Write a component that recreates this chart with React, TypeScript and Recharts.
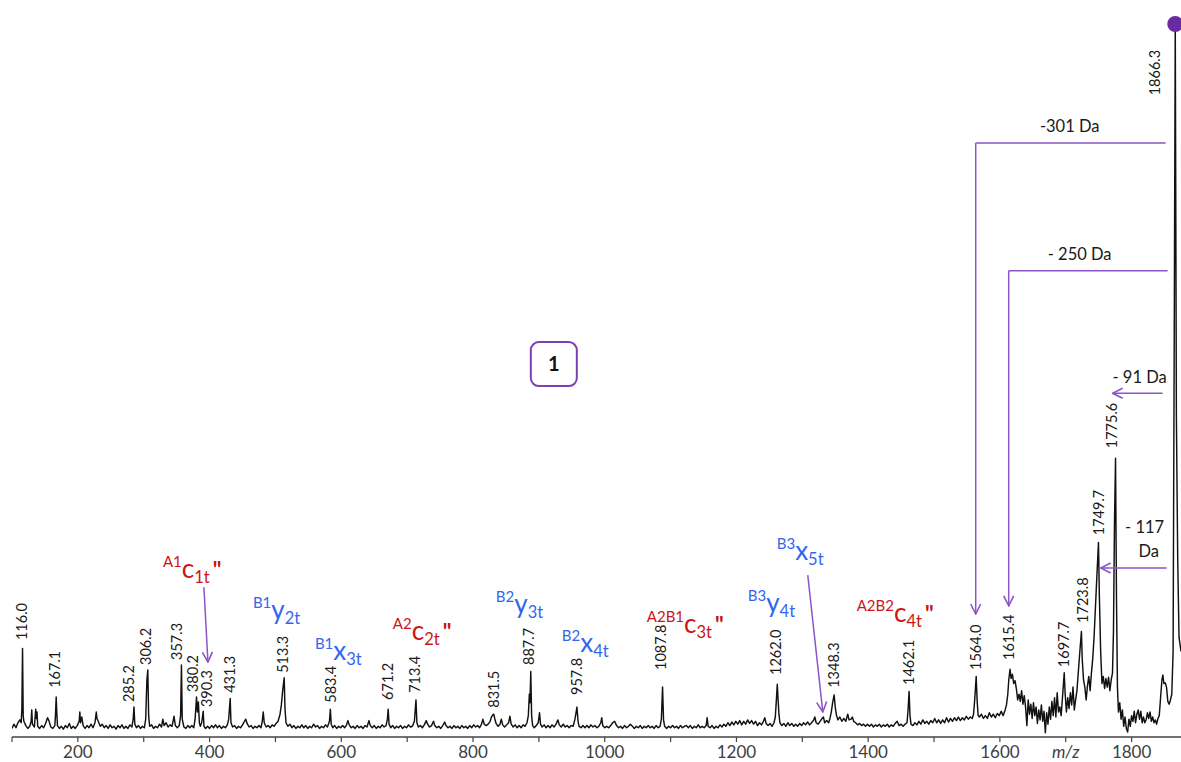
import React from 'react';
import {
  ComposedChart,
  Line,
  Scatter,
  XAxis,
  YAxis,
  ReferenceLine,
  ReferenceDot,
} from 'recharts';

const FONT = 'Lato, "Open Sans", sans-serif';
const RED = '#cc1515';
const BLUE = '#3366f0';
const PURPLE = '#8c55c8';
const BOX_PURPLE = '#7b40b4';
const DOT_PURPLE = '#6a2aa3';

// m/z axis ticks (every 100, labelled every 200; 1700 carries the "m/z" label)
const xTicks = [100, 200, 300, 400, 500, 600, 700, 800, 900, 1000, 1100, 1200, 1300, 1400, 1500, 1600, 1700, 1800];

// spectrum: [m/z, relative intensity %]
const spectrum100to310: [number, number][] = [
  [100, 1.2], [103, 1.8], [106, 1.3], [109, 2.0], [112, 2.4], [114, 2.0], [115, 4], [116, 12.4], [117, 3], [118, 2.2],
  [121, 1.6], [124, 1.2], [127, 1.5], [129, 2.2], [130, 3.8], [131, 1.8], [134, 1.4], [136, 3.9], [137, 2.6], [138, 3.5],
  [139, 1.5], [142, 1.2], [145, 1.6], [148, 1.3], [151, 1.9], [154, 2.7], [156, 2.3], [159, 1.4], [162, 1.2], [165, 1.6],
  [166, 3], [167.1, 5.6], [168, 3.5], [169, 1.6], [172, 1.2], [175, 1.5], [178, 1.1], [181, 1.6], [184, 1.3], [187, 1.9],
  [190, 1.2], [193, 1.5], [196, 1.2], [199, 1.6], [202, 2.2], [203, 3.5], [204, 2.0], [206, 2.8], [208, 1.6], [211, 1.2],
  [214, 1.6], [217, 1.3], [220, 1.8], [223, 1.3], [226, 2.0], [228, 3.5], [229, 2.6], [231, 2.2], [234, 1.5], [237, 1.8],
  [240, 1.3], [243, 1.6], [246, 1.2], [249, 1.7], [252, 1.3], [255, 1.5], [258, 1.1], [261, 1.6], [264, 1.3], [267, 1.7],
  [270, 1.2], [273, 1.5], [276, 1.2], [279, 1.7], [282, 1.4], [284, 2.5], [285.2, 4.2], [286.5, 1.8], [289, 1.3], [292, 1.6],
  [295, 1.2], [298, 1.5], [301, 1.3], [303, 2.5], [304.8, 8], [306.2, 9.4], [307.5, 3], [309, 1.5],
];

const spectrum310to525: [number, number][] = [
  [312, 1.7], [315, 1.2], [318, 1.5], [321, 1.3], [324, 1.8], [327, 1.4], [329, 2.5], [331, 1.6], [334, 2.0], [337, 1.4],
  [340, 1.7], [343, 1.5], [346, 2.9], [348, 1.6], [351, 1.3], [354, 1.6], [356, 3], [357.3, 10.1], [358.5, 2.5], [361, 1.4],
  [364, 1.2], [367, 1.6], [370, 1.3], [373, 1.6], [376, 1.3], [378, 2.5], [380.2, 5.6], [381.5, 3.5], [383, 4.9], [384.5, 2.0],
  [386, 1.5], [388, 2.0], [390.3, 3.6], [391.5, 1.5], [394, 1.2], [397, 1.5], [400, 1.2], [403, 1.6], [406, 1.3], [409, 1.7],
  [412, 1.3], [415, 1.6], [418, 1.2], [421, 1.5], [424, 1.3], [427, 1.7], [429, 2.5], [431.3, 5.4], [432.5, 2.0], [435, 1.4],
  [438, 1.6], [441, 1.2], [444, 1.5], [447, 1.3], [450, 1.7], [453, 2.2], [455, 2.5], [457, 1.9], [460, 1.4], [463, 1.6],
  [466, 1.2], [469, 1.5], [472, 1.3], [475, 1.6], [478, 1.3], [480, 2.2], [481.5, 3.5], [483, 2.0], [486, 1.4], [489, 1.6],
  [492, 1.3], [495, 1.7], [498, 1.5], [501, 1.9], [504, 2.2], [507, 3.2], [509, 4.5], [511, 6.5], [513.3, 8.3], [514.5, 4],
  [516, 2.0], [519, 1.5], [522, 1.8], [525, 1.3],
];

const spectrum525to735: [number, number][] = [
  [528, 1.6], [531, 1.2], [534, 1.5], [537, 1.3], [540, 1.7], [543, 1.3], [546, 1.6], [549, 1.2], [552, 1.5], [555, 1.3],
  [558, 1.8], [561, 1.4], [564, 1.6], [567, 1.2], [570, 1.5], [573, 1.3], [576, 1.7], [579, 1.4], [582, 2.2], [583.4, 3.9],
  [584.7, 1.8], [587, 1.3], [590, 1.6], [593, 1.2], [596, 1.5], [599, 1.3], [602, 1.6], [605, 1.3], [608, 1.7], [610, 2.3],
  [612, 1.7], [615, 1.3], [618, 1.5], [621, 1.2], [624, 1.6], [627, 1.3], [630, 1.5], [633, 1.2], [636, 1.6], [639, 1.4],
  [642, 2.3], [644, 1.6], [647, 1.3], [650, 1.6], [653, 1.2], [656, 1.5], [659, 1.3], [662, 1.7], [665, 1.4], [668, 1.6],
  [670, 2.5], [671.2, 3.9], [672.5, 1.8], [675, 1.3], [678, 1.6], [681, 1.2], [684, 1.5], [687, 1.3], [690, 1.6], [693, 1.2],
  [696, 1.5], [699, 1.3], [702, 1.7], [705, 1.4], [708, 1.5], [711, 2.2], [713.4, 5.2], [714.8, 2.0], [717, 1.4], [720, 1.6],
  [723, 1.3], [726, 1.7], [729, 2.3], [731, 1.8], [734, 1.4],
];

const spectrum735to962: [number, number][] = [
  [737, 1.6], [740, 2.2], [742, 1.6], [745, 1.3], [748, 1.5], [751, 1.2], [754, 1.6], [757, 2.1], [759, 1.6], [762, 1.3],
  [765, 1.5], [768, 1.2], [771, 1.6], [774, 1.3], [777, 1.5], [780, 1.2], [783, 1.6], [786, 1.3], [789, 1.5], [792, 1.2],
  [795, 1.6], [798, 1.3], [801, 1.7], [804, 1.4], [807, 1.6], [810, 1.3], [813, 1.8], [815, 2.5], [817, 1.8], [820, 1.6],
  [823, 1.8], [826, 2.2], [828, 2.8], [830, 3.1], [831.5, 3.2], [833, 2.6], [835, 1.9], [838, 1.5], [841, 1.8], [843, 2.5],
  [845, 1.7], [848, 1.4], [851, 1.7], [854, 2.0], [856, 2.9], [858, 1.8], [861, 1.4], [864, 1.7], [867, 1.3], [870, 1.6],
  [873, 1.3], [876, 1.7], [879, 1.5], [882, 2.0], [884, 3], [885.5, 6], [886.5, 4.8], [887.7, 9.2], [889, 3], [890.5, 1.6],
  [893, 1.3], [896, 1.6], [899, 2.0], [901, 3.4], [902.5, 1.8], [905, 1.4], [908, 1.7], [911, 1.3], [914, 1.6], [917, 1.3],
  [920, 1.7], [923, 1.4], [926, 1.8], [929, 2.4], [931, 1.7], [934, 1.4], [937, 1.8], [940, 1.4], [943, 1.6], [946, 1.3],
  [949, 1.6], [952, 1.5], [955, 2.6], [957.8, 4.2], [959.5, 2.2], [961, 1.5],
];

const spectrum962to1200: [number, number][] = [
  [964, 1.3], [967, 1.6], [970, 1.3], [973, 1.6], [976, 1.3], [979, 1.7], [982, 1.4], [985, 1.6], [988, 1.3], [991, 1.5],
  [994, 2.0], [995.5, 2.7], [997, 1.6], [1000, 1.3], [1003, 1.5], [1006, 1.3], [1009, 1.6], [1012, 2.0], [1015, 2.2], [1018, 1.6],
  [1021, 1.3], [1024, 1.5], [1027, 1.2], [1030, 1.6], [1033, 1.3], [1036, 1.5], [1039, 1.8], [1042, 1.5], [1045, 1.2], [1048, 1.5],
  [1051, 1.3], [1054, 1.6], [1057, 1.2], [1060, 1.5], [1063, 1.3], [1066, 1.6], [1069, 1.3], [1072, 1.5], [1075, 1.2], [1078, 1.6],
  [1081, 1.3], [1084, 1.5], [1086, 2.5], [1087.8, 7.0], [1089.3, 2.4], [1091, 1.5], [1094, 1.2], [1097, 1.5], [1100, 1.3], [1103, 1.6],
  [1106, 1.3], [1109, 1.5], [1112, 1.2], [1115, 1.6], [1118, 1.3], [1121, 1.5], [1124, 1.6], [1127, 1.3], [1130, 1.6], [1133, 1.2],
  [1136, 1.5], [1139, 1.3], [1142, 1.7], [1145, 1.3], [1148, 1.5], [1151, 1.3], [1154, 1.6], [1155.5, 2.7], [1157, 1.5], [1160, 1.3],
  [1163, 1.6], [1166, 1.2], [1169, 1.5], [1172, 1.3], [1175, 1.7], [1178, 1.4], [1181, 1.8], [1184, 1.5], [1187, 2.0], [1190, 1.6],
  [1193, 2.1], [1196, 1.7], [1199, 2.2],
];

const spectrum1200to1400: [number, number][] = [
  [1202, 1.8], [1205, 2.3], [1208, 1.7], [1211, 2.2], [1214, 1.8], [1217, 2.4], [1220, 1.9], [1223, 2.3], [1226, 1.8], [1229, 2.2],
  [1232, 1.6], [1235, 2.0], [1238, 1.7], [1241, 2.2], [1243, 2.7], [1245, 1.9], [1248, 1.6], [1251, 1.9], [1254, 1.5], [1257, 2.0],
  [1259, 2.8], [1260.5, 5], [1262, 7.4], [1263, 5.6], [1264.5, 3.2], [1266, 2.0], [1269, 1.6], [1272, 1.9], [1275, 1.5], [1278, 2.0],
  [1281, 1.6], [1284, 1.9], [1287, 1.5], [1290, 1.8], [1293, 1.5], [1296, 1.9], [1299, 1.6], [1302, 2.0], [1305, 1.7], [1308, 2.1],
  [1311, 1.7], [1314, 2.0], [1317, 2.3], [1319, 2.8], [1321, 2.0], [1324, 1.8], [1327, 2.2], [1330, 2.6], [1332, 2.8], [1334, 2.0],
  [1337, 2.3], [1340, 2.0], [1342, 2.6], [1344, 3.5], [1346, 4.8], [1348.3, 5.9], [1350, 4.2], [1352, 3.0], [1354, 2.4], [1357, 2.8],
  [1360, 2.2], [1363, 2.6], [1366, 2.2], [1369, 3.2], [1371, 2.4], [1374, 2.5], [1376, 2.8], [1378, 2.2], [1381, 2.0], [1384, 1.7],
  [1387, 1.9], [1390, 1.6], [1393, 1.8], [1396, 1.5], [1399, 1.8],
];

const spectrum1400to1567: [number, number][] = [
  [1402, 1.5], [1405, 1.8], [1408, 1.4], [1411, 1.7], [1414, 1.5], [1417, 1.8], [1420, 1.4], [1423, 1.7], [1426, 1.5], [1429, 1.8],
  [1432, 1.4], [1435, 1.7], [1438, 1.5], [1441, 1.9], [1444, 2.2], [1447, 1.6], [1450, 1.8], [1453, 1.5], [1456, 1.8], [1459, 2.0],
  [1460.7, 4], [1462.1, 6.4], [1463.5, 3], [1465, 1.8], [1468, 1.6], [1471, 2.0], [1474, 1.7], [1477, 2.2], [1480, 1.8], [1483, 2.4],
  [1486, 1.9], [1489, 2.2], [1492, 1.8], [1495, 2.3], [1498, 2.0], [1501, 2.6], [1504, 2.0], [1507, 2.4], [1510, 1.9], [1513, 2.4],
  [1516, 2.0], [1519, 2.7], [1522, 2.1], [1525, 2.6], [1528, 2.2], [1531, 2.7], [1534, 2.3], [1537, 2.8], [1540, 2.3], [1543, 2.7],
  [1546, 2.4], [1549, 2.9], [1552, 2.5], [1555, 2.8], [1558, 2.6], [1560, 3.2], [1562, 5.5], [1564, 8.5], [1565.5, 5], [1567, 3.0],
];

const spectrum1567to1701: [number, number][] = [
  [1569, 2.8], [1572, 3.2], [1575, 2.6], [1578, 3.0], [1581, 2.6], [1584, 3.4], [1587, 2.8], [1590, 3.2], [1593, 2.7], [1596, 3.3],
  [1599, 3.0], [1602, 3.6], [1605, 3.0], [1608, 3.8], [1610, 4.5], [1612, 6], [1613.5, 8.0], [1615.4, 9.5], [1617, 8.2], [1619, 8.8],
  [1621, 7.5], [1623, 7.9], [1625, 6.8], [1627, 5.2], [1629, 6.0], [1631, 5.0], [1633, 6.5], [1635, 4.6], [1637, 5.8], [1639, 4.2],
  [1641, 1.6], [1643, 5.2], [1645, 3.2], [1647, 4.6], [1649, 2.6], [1651, 4.8], [1653, 3.0], [1655, 4.2], [1657, 1.9], [1659, 3.8],
  [1661, 2.4], [1663, 4.5], [1665, 2.2], [1667, 3.6], [1669, 0.6], [1671, 3.4], [1673, 1.8], [1675, 4.2], [1677, 2.5], [1679, 5.0],
  [1681, 3.0], [1683, 5.5], [1685, 2.8], [1687, 6.2], [1689, 3.5], [1691, 4.2], [1693, 3.0], [1695, 5.5], [1697.7, 9.0], [1699, 6.2],
  [1701, 3.5],
];

const spectrum1701to1875: [number, number][] = [
  [1703, 5.5], [1705, 4.0], [1707, 6.2], [1709, 4.5], [1711, 7.0], [1713, 3.8], [1715, 5.2], [1717, 6.5], [1719, 9.0], [1721, 11.5],
  [1723.8, 14.8], [1725, 11.0], [1727, 8.0], [1729, 7.0], [1731, 5.2], [1733, 7.2], [1735, 8.5], [1737, 6.5], [1739, 9.0], [1741, 11],
  [1743, 14], [1745, 18], [1747, 22], [1749.7, 27.3], [1751, 20], [1753, 12], [1755, 7.5], [1757, 8.5], [1759, 6.8], [1761, 8.2],
  [1763, 7.0], [1765, 8.4], [1767, 6.5], [1769, 8.0], [1771, 9], [1772.5, 15], [1774, 30], [1775.6, 39.1], [1777, 20], [1778.5, 7],
  [1780, 3.5], [1782, 4.8], [1784, 2.5], [1786, 3.8], [1788, 1.5], [1790, 2.8], [1792, 1.2], [1794, 0.7], [1796, 2.5], [1798, 1.5],
  [1800, 3.0], [1802, 2.2], [1804, 3.6], [1806, 2.0], [1808, 3.2], [1810, 3.8], [1812, 2.5], [1814, 3.6], [1816, 2.0], [1818, 2.8],
  [1820, 2.0], [1822, 2.4], [1824, 3.4], [1826, 2.6], [1828, 3.5], [1830, 2.2], [1832, 2.8], [1834, 2.0], [1836, 2.4], [1838, 1.8],
  [1840, 2.6], [1842, 3.0], [1844, 5.5], [1846, 8.0], [1847.5, 8.7], [1849, 7.5], [1851, 7.6], [1853, 7.0], [1855, 5.0], [1857, 4.6],
  [1859, 5.2], [1861, 6.0], [1863, 12], [1864.5, 50], [1866.3, 100], [1868, 45], [1870, 25], [1872, 14], [1875, 12],
];

// peak labels: [label anchor m/z, label anchor intensity, text]
const peakLabels: [number, number, string][] = [
  [115.2, 13.6, '116.0'], [165.3, 6.9, '167.1'], [278, 4.9, '285.2'], [303, 10.1, '306.2'], [350, 10.8, '357.3'],
  [374.3, 6.3, '380.2'], [396.5, 4.2, '390.3'], [431, 6.2, '431.3'], [511.8, 9.0, '513.3'], [584, 4.8, '583.4'],
  [670.3, 5.2, '671.2'], [711.7, 6.2, '713.4'], [831.6, 4.1, '831.5'], [885.2, 10.1, '887.7'], [957.2, 5.9, '957.8'],
  [1085.1, 9.4, '1087.8'], [1259.7, 8.7, '1262.0'], [1347.7, 6.9, '1348.3'], [1462, 7.3, '1462.1'], [1563.3, 9.4, '1564.0'],
  [1613.8, 10.8, '1615.4'], [1697.3, 9.8, '1697.7'], [1725.2, 16.0, '1723.8'], [1750.4, 28.3, '1749.7'], [1769.3, 40.5, '1775.6'],
  [1835, 90.0, '1866.3'],
];

// fragment ion annotations: [m/z, intensity, superscript, ion, subscript, double prime]
const fragments: [number, number, string, string, string, boolean][] = [
  [329.2, 22.3, 'A1', 'c', '1t', true],
  [465.8, 16.55, 'B1', 'y', '2t', false],
  [559.9, 10.8, 'B1', 'x', '3t', false],
  [678.3, 13.6, 'A2', 'c', '2t', true],
  [834.7, 17.4, 'B2', 'y', '3t', false],
  [934.9, 11.9, 'B2', 'x', '4t', false],
  [1063.9, 14.6, 'A2B1', 'c', '3t', true],
  [1217.2, 17.5, 'B3', 'y', '4t', false],
  [1261.2, 24.8, 'B3', 'x', '5t', false],
  [1382.6, 16.1, 'A2B2', 'c', '4t', true],
];

// neutral-loss texts: [m/z, intensity, text]
const lossTexts: [number, number, string][] = [
  [1706, 84.85, '-301 Da'],
  [1721.1, 66.9, '- 250 Da'],
  [1812.2, 49.6, '- 91 Da'],
  [1819.8, 28.6, '- 117'],
  [1825.9, 25.2, 'Da'],
];

// arrow segments: [m/z1, int1, m/z2, int2, arrowhead at end]
const arrowSegments: [number, number, number, number, boolean][] = [
  [391.4, 21.0, 397.5, 10.5, true],
  [1308.3, 22.7, 1331.1, 3.5, true],
  [1851.7, 83.3, 1563.3, 83.3, false],
  [1563.3, 83.3, 1563.3, 17.25, true],
  [1854.7, 65.4, 1613.4, 65.4, false],
  [1613.4, 65.4, 1613.4, 18.4, true],
  [1847.1, 48.2, 1771.2, 48.2, true],
  [1853.2, 23.7, 1753.0, 23.7, true],
];

const panelBox = [{ mz: 922.7, v: 52.3, text: '1' }];
const precursor = { mz: 1866.3, v: 100 };

const spectrum = [
  ...spectrum100to310,
  ...spectrum310to525,
  ...spectrum525to735,
  ...spectrum735to962,
  ...spectrum962to1200,
  ...spectrum1200to1400,
  ...spectrum1400to1567,
  ...spectrum1567to1701,
  ...spectrum1701to1875,
].map(([mz, v]) => ({ mz, v }));

const peakLabelData = peakLabels.map(([mz, v, text]) => ({ mz, v, text }));
const fragmentData = fragments.map(([mz, v, sup, ion, sub, prime]) => ({ mz, v, sup, ion, sub, prime }));
const lossData = lossTexts.map(([mz, v, text]) => ({ mz, v, text }));

const PeakLabelShape = (props: any) => {
  const { cx, cy, payload } = props;
  if (cx == null || cy == null) return null;
  return (
    <text
      x={cx}
      y={cy}
      transform={`rotate(-90 ${cx} ${cy})`}
      dy="0.36em"
      textAnchor="start"
      fontFamily={FONT}
      fontSize={14.5}
      fill="#1a1a1a"
    >
      {payload.text}
    </text>
  );
};

const FragmentShape = (props: any) => {
  const { cx, cy, payload } = props;
  if (cx == null || cy == null) return null;
  const color = payload.sup.startsWith('A') ? RED : BLUE;
  return (
    <text x={cx} y={cy} fill={color} fontFamily={FONT} textAnchor="start">
      <tspan fontSize={15} dy={-11}>{payload.sup}</tspan>
      <tspan fontSize={26} dy={11}>{payload.ion}</tspan>
      <tspan fontSize={16.5} dy={5}>{payload.sub}</tspan>
      {payload.prime ? (
        <tspan fontSize={22} fontWeight={700} dy={-5} dx={3}>"</tspan>
      ) : null}
    </text>
  );
};

const LossShape = (props: any) => {
  const { cx, cy, payload } = props;
  if (cx == null || cy == null) return null;
  return (
    <text x={cx} y={cy} textAnchor="middle" fontFamily={FONT} fontSize={16.5} fill="#1a1a1a">
      {payload.text}
    </text>
  );
};

const BoxShape = (props: any) => {
  const { cx, cy, payload } = props;
  if (cx == null || cy == null) return null;
  return (
    <g>
      <defs>
        <marker
          id="arrowV"
          viewBox="0 0 12 12"
          refX="11"
          refY="6"
          markerWidth="12"
          markerHeight="12"
          markerUnits="userSpaceOnUse"
          orient="auto"
        >
          <path d="M1,1 L11,6 L1,11" fill="none" stroke={PURPLE} strokeWidth={1.6} />
        </marker>
      </defs>
      <rect x={cx - 23} y={cy - 22} width={46} height={44} rx={8} ry={8} fill="#fff" stroke={BOX_PURPLE} strokeWidth={2} />
      <text x={cx} y={cy} dy="0.36em" textAnchor="middle" fontFamily={FONT} fontWeight={700} fontSize={20} fill="#111">
        {payload.text}
      </text>
    </g>
  );
};

const AxisTick = (props: any) => {
  const { x, y, payload } = props;
  const v = payload.value;
  let label = '';
  let italic = false;
  if (v === 1700) {
    label = 'm/z';
    italic = true;
  } else if (v % 200 === 0) {
    label = String(v);
  }
  if (!label) return null;
  return (
    <text
      x={x}
      y={y}
      dy="0.71em"
      textAnchor="middle"
      fontFamily={FONT}
      fontSize={17}
      fontStyle={italic ? 'italic' : 'normal'}
      fill="#404040"
    >
      {label}
    </text>
  );
};

export default function App() {
  return (
    <div style={{ position: 'absolute', left: 0, top: 0, width: 1181, height: 762, background: '#fff' }}>
      <ComposedChart width={1181} height={762} margin={{ top: 24, right: 0, bottom: 0, left: 12 }}>
        <XAxis
          dataKey="mz"
          type="number"
          domain={[100, 1875]}
          allowDataOverflow
          ticks={xTicks}
          interval={0}
          height={25}
          tickSize={5}
          tickMargin={4}
          tick={<AxisTick />}
          axisLine={{ stroke: '#444', strokeWidth: 1.5 }}
          tickLine={{ stroke: '#444', strokeWidth: 1.2 }}
        />
        <YAxis type="number" domain={[0, 100]} allowDataOverflow hide width={0} />
        <Line
          data={spectrum}
          dataKey="v"
          type="linear"
          stroke="#111"
          strokeWidth={1.45}
          dot={false}
          activeDot={false}
          strokeLinejoin="round"
          isAnimationActive={false}
        />
        <Scatter data={panelBox} dataKey="v" shape={<BoxShape />} isAnimationActive={false} />
        {arrowSegments.map(([x1, y1, x2, y2, head], i) => (
          <ReferenceLine
            key={`arr-${i}`}
            segment={[{ x: x1, y: y1 }, { x: x2, y: y2 }]}
            stroke={PURPLE}
            strokeWidth={1.5}
            ifOverflow="visible"
            markerEnd={head ? 'url(#arrowV)' : undefined}
          />
        ))}
        <ReferenceDot x={precursor.mz} y={precursor.v} r={8} fill={DOT_PURPLE} stroke="none" ifOverflow="visible" />
        <Scatter data={peakLabelData} dataKey="v" shape={<PeakLabelShape />} isAnimationActive={false} />
        <Scatter data={fragmentData} dataKey="v" shape={<FragmentShape />} isAnimationActive={false} />
        <Scatter data={lossData} dataKey="v" shape={<LossShape />} isAnimationActive={false} />
      </ComposedChart>
    </div>
  );
}
